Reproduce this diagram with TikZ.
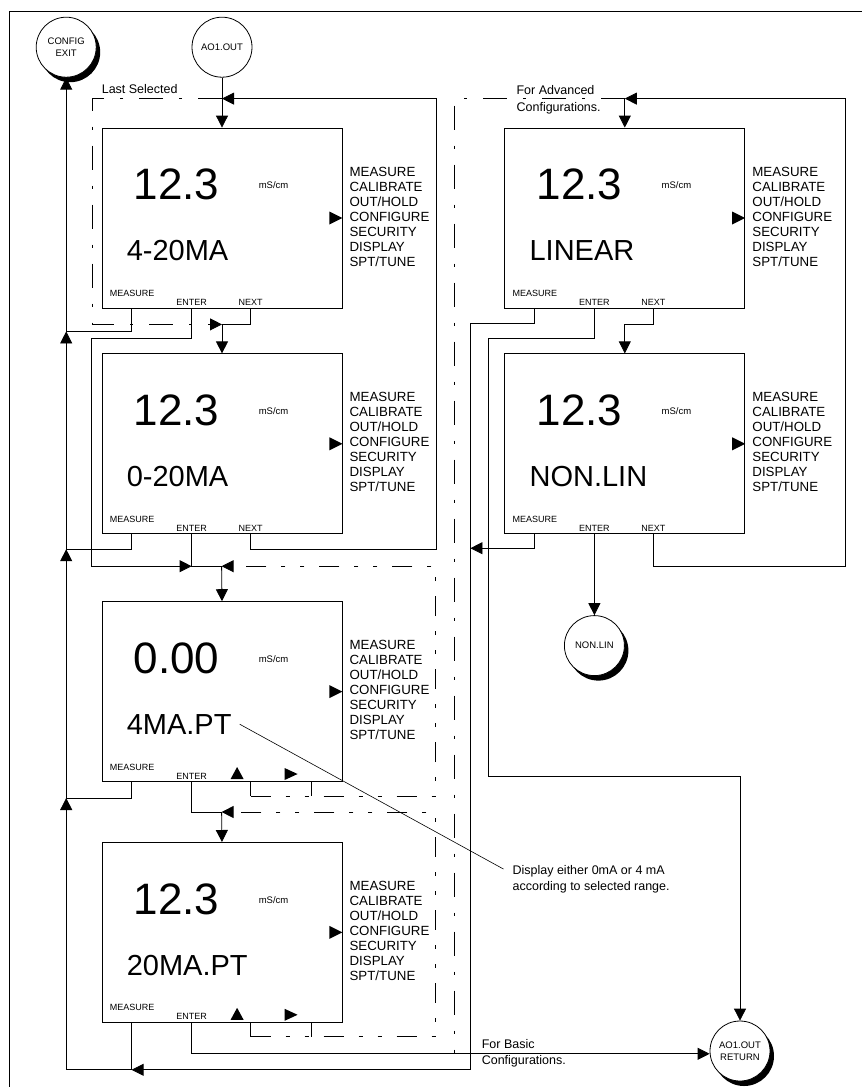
\documentclass[tikz,border=0pt]{standalone}
\usepackage{fontspec}
\setmainfont{Liberation Sans}
\usetikzlibrary{
    arrows.meta,
    positioning,
    calc,
    shadows
}
% one controller screen: frame named #1, reading #2, mode text #3
\newcommand{\lcdscreen}[3]{%
    \coordinate (#1-km) at ($(#1.south west)+(30,0)$);
    \coordinate (#1-ke) at ($(#1.south west)+(90,0)$);
    \coordinate (#1-kn) at ($(#1.south west)+(149,0)$);
    \coordinate (#1-kr) at ($(#1.south west)+(210,0)$);
    \node[bigval] (#1-val) at ($(#1.north west)+(75,72)$) {#2};
    \node[unitlbl] (#1-unit) at ($(#1.north west)+(172,61)$) {mS/cm};
    \node[modelbl] (#1-mode) at ($(#1.north west)+(25,133)$) {#3};
    \node[menulbl] (#1-menu) at ($(#1.north east)+(7,39)$) {
        MEASURE\\CALIBRATE\\OUT/HOLD\\CONFIGURE\\SECURITY\\DISPLAY\\SPT/TUNE
    };
    \fill (#1.east) -- ++(-13,-6.5) -- ++(0,13) -- cycle;
    \node[keylbl, anchor=base west] (#1-lm) at ($(#1.south west)+(8,-12)$) {MEASURE};
    \node[keylbl] (#1-le) at ($(#1-ke)+(0,-3)$) {ENTER};
}

\begin{document}
\begin{tikzpicture}[
    x=1pt,
    y=-1pt,
    screen/.style={
        draw,
        line width=0.8pt,
        minimum width=240pt,
        minimum height=180pt,
        inner sep=0pt
    },
    term/.style={
        circle,
        draw,
        fill=white,
        line width=0.8pt,
        minimum size=60pt,
        inner sep=0pt,
        align=center,
        font=\fontsize{9.5}{12}\selectfont
    },
    castshadow/.style={
        drop shadow={shadow xshift=4pt, shadow yshift=-5pt, fill=black, opacity=1}
    },
    bigval/.style={anchor=base, inner sep=0pt, font=\fontsize{44}{48}\selectfont},
    unitlbl/.style={anchor=base, inner sep=0pt, font=\fontsize{9.5}{11}\selectfont},
    modelbl/.style={anchor=base west, inner sep=0pt, font=\fontsize{29}{32}\selectfont},
    menulbl/.style={
        anchor=north west,
        inner sep=0pt,
        align=left,
        font=\fontsize{13.3}{15}\selectfont
    },
    keylbl/.style={anchor=base, inner sep=0pt, font=\fontsize{9}{11}\selectfont},
    note/.style={
        anchor=north west,
        inner sep=0pt,
        align=left,
        font=\fontsize{12.5}{16.5}\selectfont
    },
    link/.style={line width=0.8pt},
    endtip/.style={-{Triangle[length=12pt, width=12pt]}},
    arrow/.style={link, endtip},
    optline/.style={link, dash pattern=on 24pt off 16pt on 3pt off 16pt},
    keyloop/.style={link, dash pattern=on 20pt off 15pt on 4pt off 15pt on 4pt off 15pt}
]
\useasboundingbox (0,0) rectangle (862,1087);
%
\draw[link] (9,1087) -- (9,11) -- (862,11);
%
\node[screen] (b1) at (222,218) {};
\node[screen, below=45pt of b1] (b2) {};
\node[screen, below=67pt of b2] (b3) {};
\node[screen, below=60pt of b3] (b4) {};
\node[screen, right=162pt of b1] (b5) {};
\node[screen, right=162pt of b2] (b6) {};
%
\lcdscreen{b1}{12.3}{4-20MA}
\lcdscreen{b2}{12.3}{0-20MA}
\lcdscreen{b3}{0.00}{4MA.PT}
\lcdscreen{b4}{12.3}{20MA.PT}
\lcdscreen{b5}{12.3}{LINEAR}
\lcdscreen{b6}{12.3}{NON.LIN}
%
\foreach \scr in {b1,b2,b5,b6}
    \node[keylbl] (\scr-ln) at ($(\scr-kn)+(0,-3)$) {NEXT};
%
\foreach \scr in {b3,b4} {
    \fill ($(\scr.south west)+(129,-3)$) -- ++(13,0) -- ++(-6.5,-12) -- cycle;
    \fill ($(\scr.south west)+(183,-14)$) -- ++(0,12) -- ++(13,-6) -- cycle;
    \draw[link] (\scr-kn) -- ++(0,14) (\scr-kr) -- ++(0,14);
}
%
\node[term, above=50pt of b1] (ao) {AO1.OUT};
\node[term, castshadow, left=95pt of ao] (exit) {CONFIG\\EXIT};
\node[term, castshadow, below=81pt of b6-ke] (nl) {NON.LIN};
\node[term, castshadow] (ret) at (740,1051) {AO1.OUT\\RETURN};
%
\node[note, anchor=base west] (lastsel) at ($(b1.north west)+(0,-34)$) {Last Selected};
\node[note] (advcfg) at ($(b5.north west)+(12,-42)$) {For Advanced\\Configurations.};
\node[note] (basiccfg) at ($(b4.south west)+(380,16)$) {For Basic\\Configurations.};
\node[note] (rangenote) at ($(b4.north east)+(170,23)$) {
    Display either 0mA or 4 mA\\according to selected range.
};
%
\coordinate (ls) at ($(b1.north)+(0,-29)$);
%
\draw[arrow] (ao.south) -- (b1.north);
%
\draw[arrow] (b1-kn) -- ++(0,16) coordinate (nx1) -| (b2.north);
%
\draw[optline, endtip] (ls) -- ++(-130,0) |- (b2.north |- nx1);
%
\draw[arrow] (b2-kn) -- ++(0,15) -- ++(186,0) |- (ls);
%
\draw[link] (b2-ke) -- ++(0,32) coordinate (e2) -- ++(30,0) coordinate (n3);
\draw[arrow] (n3) -- (b3.north);
\draw[arrow] (b1-ke) -- ++(0,30) -- ++(-100,0) |- (e2);
\draw[keyloop, endtip] (b3-kn) ++(0,14) -- ++(185,0) |- (n3);
%
\draw[link] (b3-ke) -- ++(0,30) coordinate (e3) -- ++(30,0) coordinate (n4);
\draw[arrow] (n4) -- (b4.north);
\draw[keyloop, endtip] (b4-kn) ++(0,14) -- ++(185,0) |- (n4);
%
\draw[link] (b4-ke) -- ++(0,31) coordinate (e4);
\draw[arrow] (e4) -- (e4 -| ret.west);
%
\draw[arrow] (b1-km) -- ++(0,23) coordinate (m1) -| (exit.south);
\draw[arrow] (b2-km) -- ++(0,15) coordinate (m2) -| (m1 -| exit.south);
\draw[arrow] (b3-km) -- ++(0,16) coordinate (m3) -| (m2 -| exit.south);
\draw[link] (b4-km) -- ++(0,47) coordinate (m4);
\draw[arrow] (m4) -| (m3 -| exit.south);
%
\draw[arrow] (b5-km) -- ++(0,15) -- ++(-64,0) coordinate (rm) |- (m4);
\draw[arrow] (b6-km) -- ++(0,14) coordinate (m6) -- (m6 -| rm);
%
\draw[arrow] (b5.north |- ls) -- (b5.north);
\draw[optline] (b5.north |- ls) -- ++(-170,0) coordinate (av) -- (av |- e4);
\draw[arrow] (b6-kn) -- ++(0,32) -- ++(192,0) |- (b5.north |- ls);
\draw[arrow] (b5-kn) -- ++(0,16) -| (b6.north);
\draw[arrow] (b5-ke) -- ++(0,30) -- ++(-106,0) -- ++(0,438) -| (ret.north);
\draw[arrow] (b6-ke) -- (nl.north);
%
\draw[line width=0.6pt] ([xshift=8pt]b3-mode.east) -- ([xshift=-9pt, yshift=-4pt]rangenote.north west);
%
\end{tikzpicture}
\end{document}
